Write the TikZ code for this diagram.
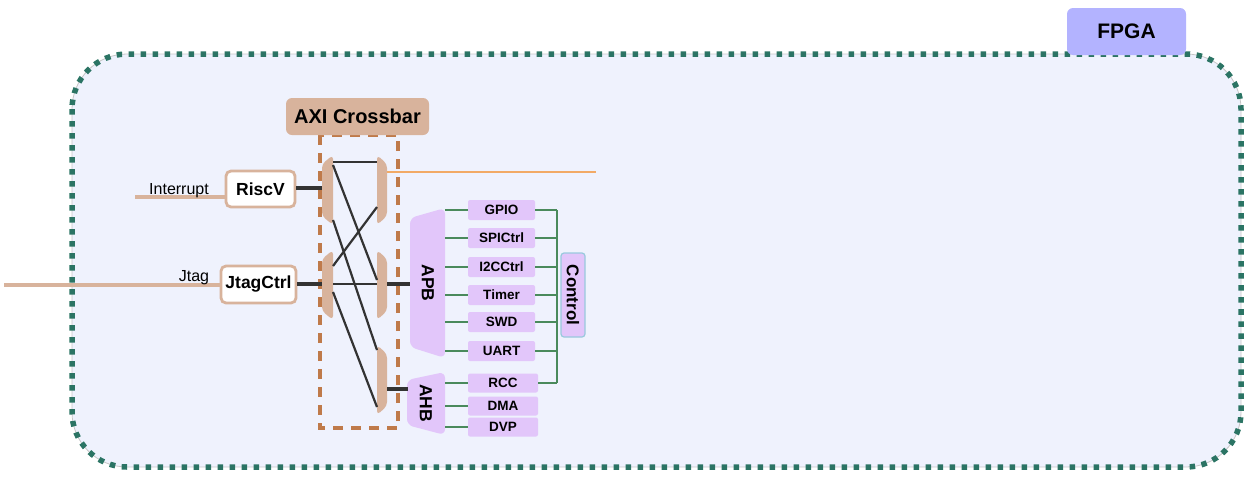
\documentclass[tikz,border=0pt]{standalone}
\usepackage{fontspec}
\setmainfont{Liberation Sans}
\usetikzlibrary{calc}
\begin{document}
\begin{tikzpicture}[x=1pt,y=-1pt,
  tan/.style={fill=tanc,draw=none},
  purp/.style={fill=lav,draw=none},
  periph/.style={fill=lav,draw=none,rounded corners=2,minimum width=67,minimum height=20,inner sep=0,font=\fontsize{13.5}{15}\selectfont\bfseries},
  cpu/.style={draw=tanc,line width=2.8,fill=white,rounded corners=5,inner sep=0,font=\fontsize{17.5}{20}\selectfont\bfseries},
  bus/.style={draw=dk,line width=3.4},
  xline/.style={draw=dk,line width=2.2},
  gline/.style={draw=grn,line width=2.6},
  inline/.style={draw=tanc,line width=4.5},
  lbl/.style={inner sep=0,font=\fontsize{16}{18}\selectfont},
]
\definecolor{tanc}{HTML}{D8B39C}
\definecolor{lav}{HTML}{E2C6FA}
\definecolor{dk}{HTML}{333333}
\definecolor{grn}{HTML}{4A8A5C}
\definecolor{teal}{HTML}{2B7464}
\definecolor{bg}{HTML}{EFF2FD}
\definecolor{brn}{HTML}{BF7A4A}
\definecolor{org}{HTML}{F2AA66}
\definecolor{fpgac}{HTML}{B3B3FF}
\definecolor{ctlb}{HTML}{99C9DD}
\useasboundingbox (0,0) rectangle (1257,477);

% FPGA container
\draw[fill=bg,draw=gray!45,line width=0.8,rounded corners=55] (72,54) rectangle (1241,467);
\draw[draw=teal,line width=5.5,dash pattern=on 5.5 off 6.5,rounded corners=55] (72,54) rectangle (1241,467);
\node[fill=fpgac,rounded corners=6,minimum width=119,minimum height=47,inner sep=0,font=\fontsize{21}{24}\selectfont\bfseries] (fpga) at (1126.5,31.5) {FPGA};

% Crossbar
\draw[draw=brn,line width=3.8,dash pattern=on 10 off 8] (320,135) rectangle (398,428);
\node[fill=tanc,rounded corners=6,minimum width=143,minimum height=37,inner sep=0,font=\fontsize{20}{23}\selectfont\bfseries] (axi) at (357.5,116.5) {AXI Crossbar};

% mux shapes (left: narrow side left; right: narrow side right)
\foreach \n/\t in {L1/155,L2/250}{
  \draw[tan,rounded corners=4] (322,\t+9) -- (333,\t) -- (333,\t+70) -- (322,\t+61) -- cycle;
  \coordinate (\n) at (333,\t);
}
\foreach \n/\t in {R1/155,R2/250,R3/345}{
  \draw[tan,rounded corners=4] (377,\t) -- (387,\t+9) -- (387,\t+61) -- (377,\t+70) -- cycle;
  \coordinate (\n) at (377,\t);
}

% CPUs
\node[cpu,minimum width=69,minimum height=36] (riscv) at (260.5,189) {RiscV};
\node[cpu,minimum width=75,minimum height=37] (jtag) at (258.5,284.5) {JtagCtrl};

\coordinate (intin) at (135,197);
\coordinate (jtagin) at (4,285);
\draw[inline] (intin) -- (intin -| riscv.west);
\draw[inline] (jtagin) -- (jtagin -| jtag.west);
\node[lbl,anchor=base] (intl) at (179,194) {Interrupt};
\node[lbl,anchor=base] (jtagl) at (194,281) {Jtag};

% buses into crossbar
\coordinate (l1in) at (322,188);
\coordinate (l2in) at (322,284);
\draw[bus] (riscv.east |- l1in) -- (l1in);
\draw[bus] (jtag.east |- l2in) -- (l2in);

% internal crossings
\draw[xline] ($(L1)+(0,7)$) -- ($(R1)+(0,7)$);
\draw[xline] ($(L1)+(0,10)$) -- ($(R2)+(0,30)$);
\draw[xline] ($(L1)+(0,65)$) -- ($(R3)+(0,5)$);
\draw[xline] ($(R1)+(0,52)$) -- ($(L2)+(0,16)$);
\draw[xline] ($(L2)+(0,34)$) -- ($(R2)+(0,34)$);
\draw[xline] ($(L2)+(0,42)$) -- ($(R3)+(0,62)$);

% APB / AHB
\draw[purp,rounded corners=6] (410,218) -- (445,208) -- (445,358) -- (410,347) -- cycle;
\node[rotate=-90,inner sep=0,font=\fontsize{17.5}{20}\selectfont\bfseries] (apb) at (428,283) {APB};
\draw[purp,rounded corners=6] (407,380) -- (445,372) -- (445,435) -- (407,425) -- cycle;
\coordinate (apbE) at (445,283);
\coordinate (ahbE) at (445,403);
\node[rotate=-90,inner sep=0,font=\fontsize{17.5}{20}\selectfont\bfseries] (ahb) at (426,403) {AHB};

\coordinate (r2out) at (387,284);
\coordinate (r3out) at (387,389);
\draw[bus] (r2out) -- (410,284);
\draw[bus] (r3out) -- (408,389);
\draw[draw=org,line width=2.8] (387,172) -- (596,172);

% peripherals
\foreach \n/\y/\t in {gpio/210/GPIO,spi/238/SPICtrl,i2c/267/I2CCtrl,tim/295/Timer,swd/322/SWD,uart/351/UART}{
  \node[periph] (\n) at (501.5,\y) {\t};
  \draw[gline] (apbE |- \n.west) -- (\n.west);
}
\foreach \n/\y/\t in {rcc/383/RCC,dma/406/DMA,dvp/427/DVP}{
  \node[periph,minimum width=70,minimum height=19] (\n) at (503,\y) {\t};
  \draw[gline] (ahbE |- \n.west) -- (\n.west);
}
\coordinate (bar) at (557,210);
\foreach \n in {gpio,spi,i2c,tim,swd,uart,rcc}{
  \draw[gline] (\n.east) -- (bar |- \n.east);
}
\draw[gline] (bar |- gpio.east) -- (bar |- rcc.east);
\node[fill=lav,draw=ctlb,line width=1.2,rounded corners=3,minimum width=24,minimum height=84,inner sep=0] (ctl) at (573,295) {};
\node[rotate=-90,inner sep=0,font=\fontsize{17}{20}\selectfont\bfseries] (ctlt) at (ctl.center) {Control};
\end{tikzpicture}
\end{document}
